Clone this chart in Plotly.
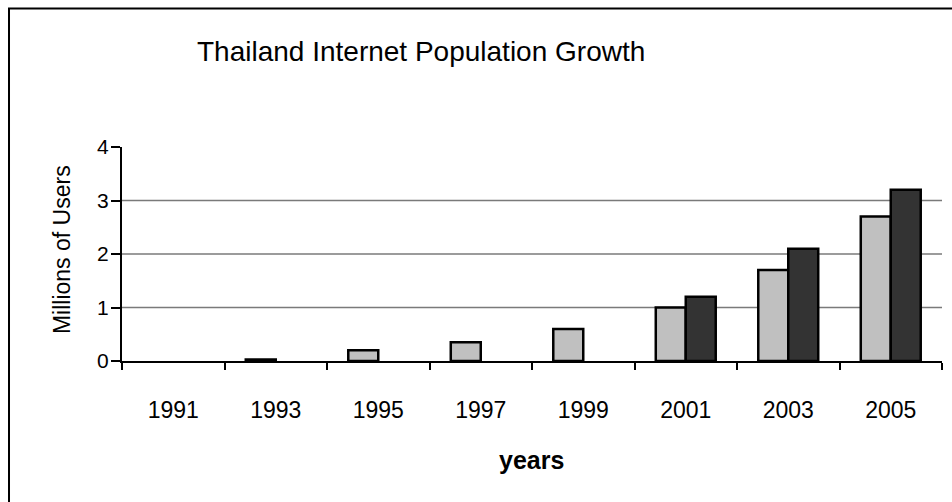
import plotly.graph_objects as go

# Thailand internet users, millions
years = ["1991", "1993", "1995", "1997", "1999", "2001", "2003", "2005"]
series_light = [None, 0.03, 0.2, 0.35, 0.6, 1.0, 1.7, 2.7]
series_dark = [None, None, None, None, None, 1.2, 2.1, 3.2]
y_ticks = [0, 1, 2, 3, 4]
grid_levels = [1, 2, 3]

FONT = "Liberation Sans, Arial, sans-serif"

fig = go.Figure()
fig.add_trace(go.Bar(
    x=years, y=series_light, name="Series 1",
    marker=dict(color="#c0c0c0", line=dict(color="black", width=2.5)),
))
fig.add_trace(go.Bar(
    x=years, y=series_dark, name="Series 2",
    marker=dict(color="#333333", line=dict(color="black", width=2.5)),
))

# horizontal grid lines (none at the top of the axis)
for g in grid_levels:
    fig.add_shape(type="line", xref="paper", yref="y", x0=0, x1=1, y0=g, y1=g,
                  line=dict(color="#7a7a7a", width=1.5), layer="below")

# chart frame
fig.add_shape(type="rect", xref="paper", yref="paper",
              x0=-0.1378, x1=1.05, y0=-0.8, y1=1.647,
              line=dict(color="black", width=2), fillcolor="rgba(0,0,0,0)")

fig.add_annotation(text="Thailand Internet Population Growth", xref="paper", yref="paper",
                   x=0.3646, y=1.444, showarrow=False, xanchor="center", yanchor="middle",
                   font=dict(family=FONT, size=28, color="black"))
fig.add_annotation(text="Millions of Users", xref="paper", yref="paper",
                   x=-0.073, y=0.519, showarrow=False, textangle=-90,
                   xanchor="center", yanchor="middle",
                   font=dict(family=FONT, size=23, color="black"))
fig.add_annotation(text="<b>years</b>", xref="paper", yref="paper",
                   x=0.4988, y=-0.4626, showarrow=False, xanchor="center", yanchor="middle",
                   font=dict(family=FONT, size=25, color="black"))

fig.update_layout(
    width=952, height=502,
    margin=dict(l=122, r=10, t=147, b=141),
    paper_bgcolor="white", plot_bgcolor="white",
    showlegend=False,
    barmode="group", bargap=0.415, bargroupgap=0,
    font=dict(family=FONT, color="black"),
)
fig.update_xaxes(
    type="category", showline=True, linecolor="black", linewidth=2,
    ticks="outside", tickson="boundaries", ticklen=7, tickwidth=2, tickcolor="black",
    tickfont=dict(family=FONT, size=23, color="black"),
    ticklabelstandoff=27, showgrid=False,
)
fig.update_yaxes(
    range=[0, 4], tickvals=y_ticks, showline=True, linecolor="black", linewidth=2,
    ticks="outside", ticklen=9, tickwidth=2, tickcolor="black",
    tickfont=dict(family=FONT, size=21, color="black"),
    ticklabelstandoff=-2,
    showgrid=False, zeroline=False,
)

fig.write_html("out.html")
